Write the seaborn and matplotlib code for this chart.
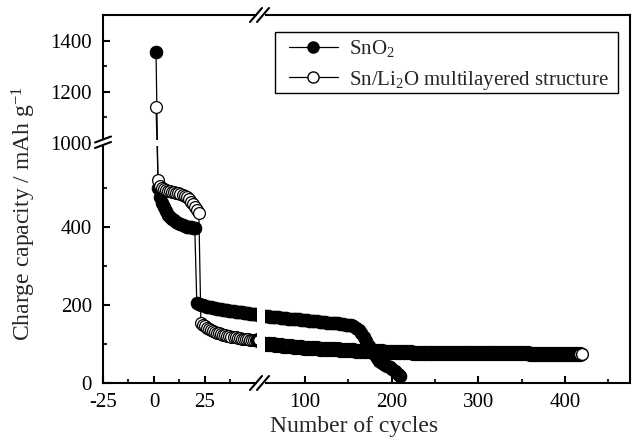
import numpy as np
import pandas as pd
import matplotlib
matplotlib.use("Agg")
import matplotlib.pyplot as plt
import seaborn as sns
from matplotlib.lines import Line2D
from matplotlib.patches import Rectangle

# ---------------- data ----------------
sno2_cycles = list(range(1, 52)) + list(range(54, 211, 3))
sno2_capacity = [
    1355, 500, 478, 462, 450, 440, 432, 426, 421, 417,
    413, 410, 407, 405, 403, 401, 400, 399, 398, 397,
    205, 203, 201, 199, 198, 196, 195, 194, 193, 192,
    191, 190, 189, 188, 187, 186, 185, 184, 184, 183,
    182, 181, 181, 180, 179, 179, 178, 177, 177, 176,
    175,
    172, 171, 170, 169, 169, 168, 167, 167, 166, 165,
    165, 164, 163, 163, 162, 161, 161, 160, 159, 159,
    158, 157, 157, 156, 155, 155, 154, 153, 153, 152,
    151, 150, 149, 148, 146, 142, 136, 128, 118, 107,
    96, 85, 74, 63, 56, 51, 47, 44, 41, 37,
    31, 24, 17,
]

snli_cycles = list(range(1, 52)) + list(range(54, 421, 3))
snli_capacity = [
    1140, 520, 505, 500, 497, 495, 493, 492, 490, 489,
    488, 487, 485, 483, 480, 476, 471, 465, 458, 450,
    443, 435, 155, 150, 146, 142, 139, 136, 133, 131,
    129, 127, 125, 124, 122, 121, 120, 119, 118, 117,
    116, 115, 114, 113, 113, 112, 111, 111, 110, 110,
    109,
    101, 100, 99, 99, 98, 97, 97, 96, 95, 95,
    94, 93, 93, 92, 92, 91, 91, 90, 90, 89,
    89, 88, 88, 88, 87, 87, 86, 86, 86, 85,
    85, 85, 84, 84, 84, 83, 83, 83, 83, 82,
    82, 82, 81, 81, 81, 81, 80, 80, 80, 80,
    80, 79, 79, 79, 79, 79, 79, 78, 78, 78,
    78, 78, 78, 78, 78, 77, 77, 77, 77, 77,
    77, 77, 77, 77, 77, 77, 77, 77, 77, 77,
    77, 77, 76, 76, 76, 76, 76, 76, 76, 76,
    76, 76, 76, 76, 76, 76, 76, 76, 76, 76,
    76, 76, 75, 75, 75, 75, 75, 75, 75, 75,
    75, 75, 75, 75, 75, 75, 75, 75, 75, 75,
    75, 75, 75,
]

x_major = [-25, 0, 25, 100, 200, 300, 400]
x_major_labels = ["-25", "0", "25", "100", "200", "300", "400"]
x_minor = [-12.5, 12.5, 37.5, 150, 250, 350, 450]
y_major = [0, 200, 400, 1000, 1200, 1400]
y_major_labels = ["0", "200", "400", "1000", "1200", "1400"]
y_minor = [100, 300, 500, 1100, 1300]

label_sno2 = "SnO$_2$"
label_snli = "Sn/Li$_2$O multilayered structure"

# ---------------- style ----------------
sns.set_style("ticks")
plt.rcParams["font.family"] = ["Liberation Serif", "DejaVu Serif"]
plt.rcParams["mathtext.fontset"] = "custom"
plt.rcParams["mathtext.rm"] = "Liberation Serif"
plt.rcParams["mathtext.it"] = "Liberation Serif:italic"
plt.rcParams["mathtext.bf"] = "Liberation Serif:bold"
plt.rcParams["axes.unicode_minus"] = False

W, H = 632, 446
fig = plt.figure(figsize=(W / 100, H / 100), dpi=100)
AX_L, AX_R, AX_T, AX_B = 103, 630, 15, 383
ax = fig.add_axes([AX_L / W, (H - AX_B) / H, (AX_R - AX_L) / W, (AX_B - AX_T) / H])


def piecewise(v, p):
    v = np.asarray(v, float)
    p = np.asarray(p, float)

    def make(a, b):
        def f(x):
            x = np.asarray(x, float)
            y = np.interp(x, a, b)
            y = np.where(x < a[0], b[0] + (x - a[0]) * (b[1] - b[0]) / (a[1] - a[0]), y)
            y = np.where(x > a[-1], b[-1] + (x - a[-1]) * (b[-1] - b[-2]) / (a[-1] - a[-2]), y)
            return y
        return f

    return make(v, p), make(p, v)


xf, xi = piecewise([-25, 51, 54, 475], [0, 155, 162, 527])
yf, yi = piecewise([0, 600, 1000, 1500], [0, 234, 240, 368])
ax.set_xscale("function", functions=(xf, xi))
ax.set_yscale("function", functions=(yf, yi))

df1 = pd.DataFrame({"cycle": sno2_cycles, "capacity": sno2_capacity})
df2 = pd.DataFrame({"cycle": snli_cycles, "capacity": snli_capacity})

sns.lineplot(data=df1, x="cycle", y="capacity", ax=ax, estimator=None, sort=False,
             color="black", linewidth=0.9, marker="o", markersize=9.0,
             markerfacecolor="black", markeredgecolor="black", markeredgewidth=0.8)
# Sn/Li2O: same series, drawn in two passes (left of the x break / right of it)
sns.lineplot(data=df2[df2["cycle"] <= 51], x="cycle", y="capacity", ax=ax,
             estimator=None, sort=False,
             color="black", linewidth=0.9, marker="o", markersize=8.5,
             markerfacecolor="white", markeredgecolor="black", markeredgewidth=0.9)
right = df2[df2["cycle"] >= 51]
sns.lineplot(data=right.iloc[:-1], x="cycle", y="capacity", ax=ax,
             estimator=None, sort=False,
             color="black", linewidth=0.9, marker="o", markersize=8.5,
             markerfacecolor="white", markeredgecolor="black", markeredgewidth=2.5)
sns.lineplot(data=right.iloc[-2:], x="cycle", y="capacity", ax=ax,
             estimator=None, sort=False,
             color="black", linewidth=0.9, marker="o", markersize=8.5,
             markerfacecolor="white", markeredgecolor="black", markeredgewidth=1.0)

ax.set_xlim(-25, 475)
ax.set_ylim(0, 1500)
ax.set_xticks(x_major)
ax.set_xticklabels(x_major_labels)
ax.set_xticks(x_minor, minor=True)
ax.set_yticks(y_major)
ax.set_yticklabels(y_major_labels)
ax.set_yticks(y_minor, minor=True)

for s in ax.spines.values():
    s.set_linewidth(1.5)
    s.set_color("black")
ax.tick_params(axis="both", which="major", direction="in", length=5, width=1.5,
               labelsize=15, colors="black")
ax.tick_params(axis="both", which="minor", direction="in", length=3, width=1.5)
ax.tick_params(axis="x", which="major", pad=7)
ax.tick_params(axis="y", which="major", pad=8)

ax.set_xlabel("Number of cycles", fontsize=17)
ax.set_ylabel("Charge capacity / mAh g$^{-1}$", fontsize=17)
ax.xaxis.set_label_coords((354 - AX_L) / (AX_R - AX_L), -(416 - AX_B) / (AX_B - AX_T))
ax.yaxis.set_label_coords(-(AX_L - 38) / (AX_R - AX_L), (AX_B - 214) / (AX_B - AX_T))

handles = [
    Line2D([], [], color="black", linewidth=0.9, marker="o", markersize=8.0,
           markerfacecolor="black", markeredgecolor="black"),
    Line2D([], [], color="black", linewidth=0.9, marker="o", markersize=8.0,
           markerfacecolor="white", markeredgecolor="black"),
]
# legend contents without frame; the frame box is drawn separately
leg = ax.legend(handles, [label_sno2, label_snli], loc="center left",
                bbox_to_anchor=((289 - AX_L) / (AX_R - AX_L), (AX_B - 65) / (AX_B - AX_T)),
                borderaxespad=0, borderpad=0, fontsize=15, frameon=False,
                handlelength=2.35, handletextpad=0.55, labelspacing=0.45)


# ---------------- frame & axis breaks (pixel positions) ----------------
def F(px, py):
    return (px / W, 1 - py / H)


def box(x0, y0, x1, y1, fc, ec, lw, z):
    fx0, fy1 = F(x0, y0)
    fx1, fy0 = F(x1, y1)
    fig.add_artist(Rectangle((fx0, fy0), fx1 - fx0, fy1 - fy0, transform=fig.transFigure,
                             facecolor=fc, edgecolor=ec, linewidth=lw, zorder=z))


def slash(x0, y0, x1, y1):
    a = F(x0, y0)
    b = F(x1, y1)
    fig.add_artist(Line2D([a[0], b[0]], [a[1], b[1]], transform=fig.transFigure,
                          color="black", linewidth=1.5, zorder=6))


# legend frame
box(275, 32, 618, 93, "none", "black", 1.0, 4)

# vertical gap (x break)
box(257, AX_T - 3, 265, AX_B + 3, "white", "none", 0, 5)
for yc in (AX_T, AX_B):
    slash(250, yc + 7, 262, yc - 7)
    slash(257, yc + 7, 269, yc - 7)

# horizontal gap (y break)
box(AX_L - 3, 140, 300, 146, "white", "none", 0, 5)
slash(95, 142.5, 111, 136.5)
slash(95, 148, 111, 142)

fig.savefig("out.png", dpi=100)
